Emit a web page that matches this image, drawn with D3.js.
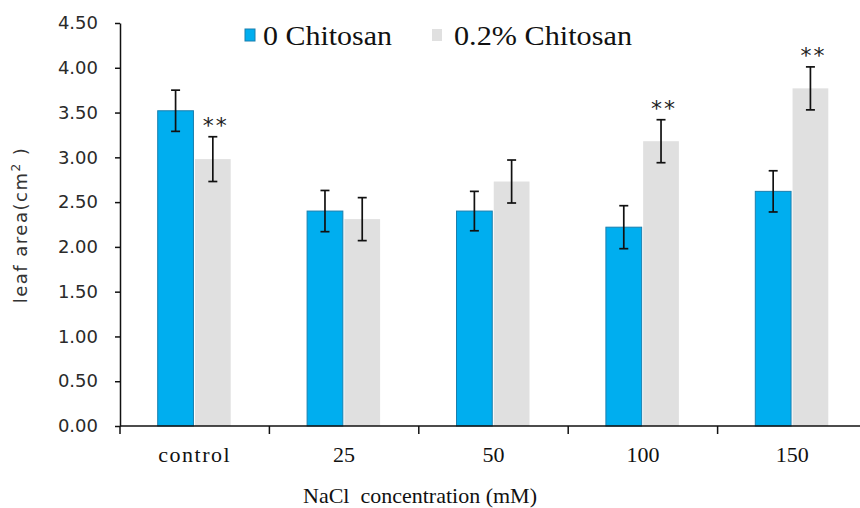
<!DOCTYPE html>
<html>
<head>
<meta charset="utf-8">
<script src="https://cdn.jsdelivr.net/npm/d3@7"></script>
<style>
  body { margin: 0; background: #fff; }
  svg { display: block; }
</style>
</head>
<body>
<script>
(function () {
  'use strict';

  // data
  const categories = ['control', '25', '50', '100', '150'];
  const series = ['0 Chitosan', '0.2% Chitosan'];
  const noChitosan = [3.52, 2.40, 2.40, 2.22, 2.62];
  const noChitosanErr = [0.23, 0.23, 0.22, 0.24, 0.23];
  const chitosan = [2.98, 2.31, 2.73, 3.18, 3.77];
  const chitosanErr = [0.25, 0.24, 0.24, 0.24, 0.24];
  const chitosanSig = ['**', '', '', '**', '**'];
  const yTicks = [0, 0.5, 1, 1.5, 2, 2.5, 3, 3.5, 4, 4.5];

  const colors = ['#00aeef', '#e0e0e0'];

  const width = 860, height = 508;
  const margin = { left: 120, top: 23, bottom: 82 };
  const plotBottom = height - margin.bottom; // 426

  const svg = d3.select('body')
    .append('svg')
    .attr('width', width)
    .attr('height', height);

  const rows = categories.map((c, i) => ({
    cat: c,
    vals: [
      { s: series[0], v: noChitosan[i], e: noChitosanErr[i], sig: '' },
      { s: series[1], v: chitosan[i], e: chitosanErr[i], sig: chitosanSig[i] }
    ]
  }));

  // scales
  const yScale = d3.scaleLinear()
    .domain([0, 4.5])
    .range([plotBottom, margin.top]);

  const xScale = d3.scaleBand()
    .domain(categories)
    .range([margin.left, 867]);

  const x1 = d3.scaleBand()
    .domain(series)
    .range([-37, 36])
    .paddingInner(0.04);

  // bars
  const groups = svg.append('g')
    .selectAll('g')
    .data(rows)
    .enter()
    .append('g')
    .attr('transform', d => `translate(${xScale(d.cat) + xScale.bandwidth() / 2},0)`);

  groups.selectAll('rect')
    .data(d => d.vals)
    .enter()
    .append('rect')
    .attr('x', d => x1(d.s))
    .attr('y', d => yScale(d.v))
    .attr('width', x1.bandwidth())
    .attr('height', d => plotBottom - yScale(d.v))
    .attr('fill', (d, i) => colors[i])
    .attr('stroke', (d, i) => i === 0 ? '#1a7fae' : 'none')
    .attr('stroke-width', 1);

  // error bars
  const err = groups.selectAll('g.err')
    .data(d => d.vals)
    .enter()
    .append('g')
    .attr('class', 'err')
    .attr('transform', d => `translate(${x1(d.s) + x1.bandwidth() / 2},0)`)
    .attr('stroke', '#111')
    .attr('stroke-width', 1.7);

  err.append('line')
    .attr('y1', d => yScale(d.v + d.e))
    .attr('y2', d => yScale(d.v - d.e));
  err.append('line')
    .attr('x1', -4.5).attr('x2', 4.5)
    .attr('y1', d => yScale(d.v + d.e))
    .attr('y2', d => yScale(d.v + d.e));
  err.append('line')
    .attr('x1', -4.5).attr('x2', 4.5)
    .attr('y1', d => yScale(d.v - d.e))
    .attr('y2', d => yScale(d.v - d.e));

  // significance stars
  groups.selectAll('text.sig')
    .data(d => d.vals.filter(v => v.sig))
    .enter()
    .append('text')
    .attr('class', 'sig')
    .attr('x', d => x1(d.s) + x1.bandwidth() / 2 + 3)
    .attr('y', d => yScale(d.v + d.e) - 4)
    .attr('text-anchor', 'middle')
    .attr('font-family', 'DejaVu Sans, sans-serif')
    .attr('font-size', '22px')
    .attr('letter-spacing', '2px')
    .attr('fill', '#222')
    .text(d => d.sig);

  // y axis
  const yAxis = d3.axisLeft(yScale)
    .tickValues(yTicks)
    .tickFormat(d3.format('.2f'))
    .tickSize(5)
    .tickSizeOuter(0)
    .tickPadding(17);

  const yG = svg.append('g')
    .attr('transform', `translate(${margin.left},0)`)
    .call(yAxis);
  yG.select('.domain').attr('stroke', '#111').attr('stroke-width', 1.5);
  yG.selectAll('.tick line').attr('stroke', '#111').attr('stroke-width', 1.5);
  yG.selectAll('.tick text')
    .attr('font-family', 'DejaVu Sans, sans-serif')
    .attr('font-size', '18px')
    .attr('fill', '#2a2a2a');

  // x axis: ticks at category boundaries
  const xAxis = d3.axisBottom(xScale)
    .tickSize(0)
    .tickPadding(20)
    .tickSizeOuter(0);

  const xG = svg.append('g')
    .attr('transform', `translate(0,${plotBottom})`)
    .call(xAxis);
  xG.select('.domain').remove();
  xG.append('line')
    .attr('x1', margin.left).attr('x2', width)
    .attr('stroke', '#111').attr('stroke-width', 1.5);
  xG.selectAll('line.sep')
    .data(categories)
    .enter()
    .append('line')
    .attr('class', 'sep')
    .attr('x1', d => xScale(d)).attr('x2', d => xScale(d))
    .attr('y1', 0).attr('y2', 8)
    .attr('stroke', '#111').attr('stroke-width', 1.5);
  xG.selectAll('.tick text')
    .attr('font-family', 'Liberation Serif, Times New Roman, serif')
    .attr('font-size', '22px')
    .attr('fill', '#111')
    .attr('letter-spacing', d => d === 'control' ? '1.5px' : null);

  // axis titles
  svg.append('text')
    .attr('x', 420)
    .attr('y', 503)
    .attr('text-anchor', 'middle')
    .attr('font-family', 'Liberation Serif, Times New Roman, serif')
    .attr('font-size', '22px')
    .attr('fill', '#111')
    .attr('xml:space', 'preserve')
    .text('NaCl  concentration (mM)');

  const yTitle = svg.append('text')
    .attr('transform', 'translate(27,225) rotate(-90)')
    .attr('text-anchor', 'middle')
    .attr('font-family', 'DejaVu Sans, sans-serif')
    .attr('font-size', '18px')
    .attr('letter-spacing', '1.5px')
    .attr('fill', '#333');
  yTitle.append('tspan').text('leaf area(cm');
  yTitle.append('tspan').attr('dy', -7).attr('font-size', '12px').text('2');
  yTitle.append('tspan').attr('dy', 7).text(' )');

  // legend
  const legendX = [245, 432];
  const legendTextW = [129, 178];
  const legend = svg.append('g')
    .selectAll('g')
    .data(series)
    .enter()
    .append('g')
    .attr('transform', (d, i) => `translate(${legendX[i]},0)`);
  legend.append('rect')
    .attr('x', 0).attr('y', 29)
    .attr('width', 10).attr('height', 12)
    .attr('fill', (d, i) => colors[i])
    .attr('stroke', (d, i) => i === 0 ? '#1a7fae' : 'none');
  legend.append('text')
    .attr('x', (d, i) => i === 0 ? 18 : 22)
    .attr('y', 45)
    .attr('font-family', 'Liberation Serif, Times New Roman, serif')
    .attr('font-size', '27px')
    .attr('fill', '#111')
    .attr('textLength', (d, i) => legendTextW[i])
    .attr('lengthAdjust', 'spacingAndGlyphs')
    .text(d => d);
})();
</script>
</body>
</html>
